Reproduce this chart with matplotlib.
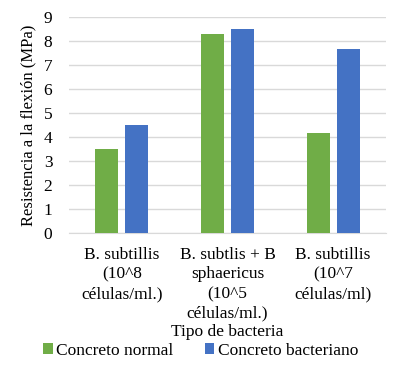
import numpy as np
from matplotlib import pyplot as plt
import matplotlib

matplotlib.rc("font", family="Liberation Serif", size=12.5)

categorias = ["B. subtillis\n(10^8\ncélulas/ml.)",
              "B. subtlis + B\nsphaericus\n(10^5\ncélulas/ml.)",
              "B. subtillis\n(10^7\ncélulas/ml)"]
normal = [3.5, 8.3, 4.15]
bacteriano = [4.5, 8.5, 7.65]

fig = plt.figure(figsize=(4.01, 3.70), dpi=100)
ax = fig.add_axes([69/401, 1 - 233/370, 317/401, 216/370])

x = np.arange(len(categorias))
ancho = 0.22
ax.bar(x - 0.142, normal, ancho, color="#70AD47", label="Concreto normal", zorder=3)
ax.bar(x + 0.142, bacteriano, ancho, color="#4472C4", label="Concreto bacteriano", zorder=3)

ax.set_xlim(-0.5, 2.5)
ax.set_ylim(0, 9)
ax.set_yticks(range(0, 10))
ax.set_xticks(x)
ax.set_xticklabels(categorias, linespacing=1.3)
ax.tick_params(length=0)
ax.tick_params(axis="y", pad=12)
ax.tick_params(axis="x", pad=10)
ax.grid(axis="y", color="#D9D9D9", linewidth=1, zorder=0)
for s in ["top", "right", "left"]:
    ax.spines[s].set_visible(False)
ax.spines["bottom"].set_color("#D9D9D9")

ax.set_ylabel("Resistencia a la flexión (MPa)", labelpad=5, fontsize=12)
ax.set_xlabel("Tipo de bacteria", labelpad=2)

fig.legend(loc="center", bbox_to_anchor=(0.5, 1 - 351/370), ncol=2, frameon=False,
           handlelength=0.55, handleheight=0.6, handletextpad=0.2, columnspacing=1.8,
           borderaxespad=0)

plt.savefig("out.png", dpi=100)
